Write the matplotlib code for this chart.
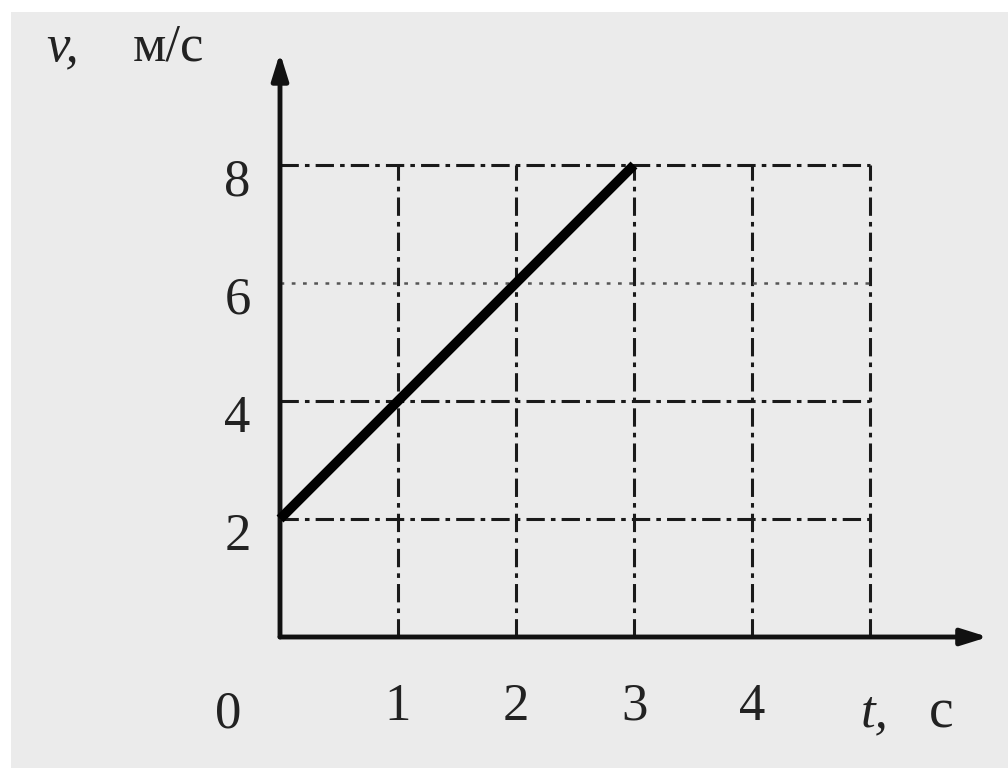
import matplotlib
matplotlib.use("Agg")
import matplotlib.pyplot as plt
from matplotlib.patches import Rectangle

# Data
t_values = [0, 3]
v_values = [2, 8]
x_ticks = [1, 2, 3, 4]
x_grid = [1, 2, 3, 4, 5]
y_ticks = [2, 4, 6, 8]

fig = plt.figure(figsize=(10.08, 7.68), dpi=100)
fig.patch.set_facecolor("white")
fig.add_artist(Rectangle((11/1008, 0), 1, 1 - 12/768, transform=fig.transFigure,
                         facecolor="#ebebeb", edgecolor="none", zorder=0))
ax = fig.add_axes([0, 0, 1, 1])
ax.set_facecolor("none")
ax.set_xlim(-280/118, (1008-280)/118)
ax.set_ylim(-(768-637)/59, 637/59)
ax.axis("off")

serif = ["Liberation Serif", "DejaVu Serif"]
gc = "#1a1a1a"
tc = "#222222"
# grid lines
for xv in x_grid:
    ax.plot([xv, xv], [0, 8], color=gc, lw=2.2, ls=(0, (6, 2, 1.5, 2)), zorder=2)
for yv in y_ticks:
    if yv == 6:
        ax.plot([0, 5], [yv, yv], color="#555555", lw=1.8, ls=(0, (1.5, 3)), zorder=2)
    else:
        ax.plot([0, 5], [yv, yv], color=gc, lw=2.2, ls=(0, (6, 2, 1.5, 2)), zorder=2)

# axes with arrows
ax.annotate("", xy=(6.0, 0), xytext=(0, 0),
            arrowprops=dict(arrowstyle="-|>,head_length=1.6,head_width=0.5", color="#111111", lw=3.5,
                            shrinkA=0, shrinkB=0), zorder=3)
ax.annotate("", xy=(0, 9.9), xytext=(0, 0),
            arrowprops=dict(arrowstyle="-|>,head_length=1.6,head_width=0.5", color="#111111", lw=3.5,
                            shrinkA=0, shrinkB=0), zorder=3)

# main line
ax.plot(t_values, v_values, color="#000000", lw=7, solid_capstyle="butt", zorder=4)

# tick labels
ax.text(-0.44, -1.32, "0", fontsize=38, family=serif, ha="center", va="center", color=tc)
for xv in x_ticks:
    ax.text(xv, -1.18, str(xv), fontsize=38, family=serif, ha="center", va="center", color=tc)
for yv in y_ticks:
    ax.text(-0.36, yv - 0.3, str(yv), fontsize=38, family=serif, ha="center", va="center", color=tc)

# axis labels: italic variable, upright unit
ax.text(4.92, -1.3, "t,", fontsize=38, family=serif, style="italic", ha="left", va="center", color=tc)
ax.text(5.5, -1.3, "с", fontsize=40, family=serif, ha="left", va="center", color=tc)
ax.text(-1.98, 10.0, "v,", fontsize=38, family=serif, style="italic", ha="left", va="center", color=tc)
ax.text(-1.25, 10.0, "м/с", fontsize=38, family=serif, ha="left", va="center", color=tc)

fig.savefig("out.png", dpi=100)
